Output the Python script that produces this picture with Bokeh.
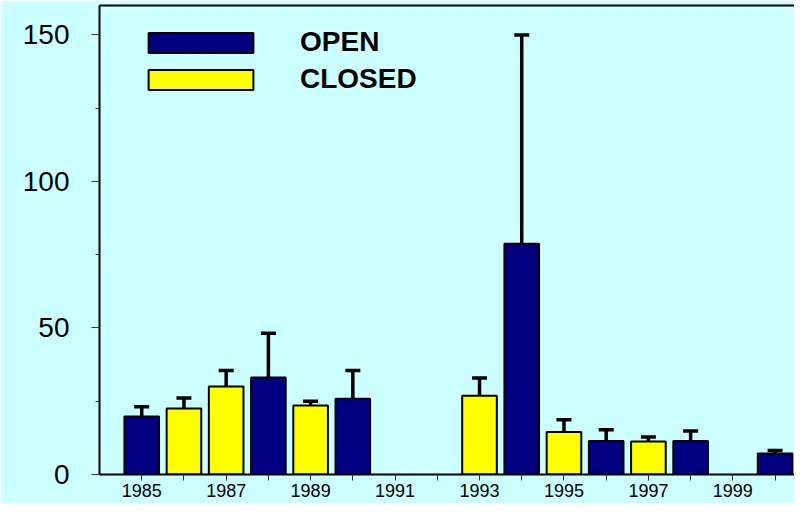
from bokeh.plotting import figure
from bokeh.models import (ColumnDataSource, Whisker, TeeHead, FixedTicker,
                          SingleIntervalTicker, Legend, LegendItem, LinearAxis)
from bokeh.embed import file_html
from bokeh.resources import INLINE

# ---- data ----
years = [1985, 1986, 1987, 1988, 1989, 1990, 1993, 1994, 1995, 1996, 1997, 1998, 2000]
season = ["OPEN", "CLOSED", "CLOSED", "OPEN", "CLOSED", "OPEN", "CLOSED",
          "OPEN", "CLOSED", "OPEN", "CLOSED", "OPEN", "OPEN"]
means = [19.8, 22.5, 30.0, 33.1, 23.5, 25.8, 26.9, 78.7, 14.5, 11.4, 11.3, 11.4, 7.2]
errors = [3.3, 3.6, 5.5, 15.1, 1.5, 9.7, 6.0, 71.2, 4.2, 3.9, 1.5, 3.4, 1.0]
label_years = [1985, 1987, 1989, 1991, 1993, 1995, 1997, 1999]
other_years = [1986, 1988, 1990, 1992, 1994, 1996, 1998, 2000]
legend_labels = ["OPEN", "CLOSED"]
series_colors = {"OPEN": "#000080", "CLOSED": "#FFFF00"}

BG = "#CCFFFF"

p = figure(width=794, height=503, output_backend="svg", toolbar_location=None,
           x_range=(1984.0, 2000.46), y_range=(0, 160.0),
           min_border_left=99, min_border_right=0, min_border_top=5,
           min_border_bottom=29)
p.background_fill_color = BG
p.border_fill_color = BG
p.outline_line_color = None
p.xgrid.visible = False
p.ygrid.visible = False

renderers = {}
for lab in legend_labels:
    idx = [i for i, s in enumerate(season) if s == lab]
    src = ColumnDataSource(dict(x=[years[i] for i in idx],
                                top=[means[i] for i in idx]))
    renderers[lab] = p.vbar(x="x", top="top", bottom=0, width=0.82, source=src,
                            fill_color=series_colors[lab], line_color="black",
                            line_width=2)

err_src = ColumnDataSource(dict(x=years, lower=means,
                                upper=[m + e for m, e in zip(means, errors)]))
wh = Whisker(base="x", lower="lower", upper="upper", source=err_src,
             dimension="height", line_color="black", line_width=3.5,
             lower_head=None,
             upper_head=TeeHead(size=15, line_color="black", line_width=3.5))
p.add_layout(wh)

# y axis
ya = p.left[0]
ya.ticker = SingleIntervalTicker(interval=50, num_minor_ticks=2)
ya.axis_line_width = 2
ya.axis_line_color = "black"
ya.major_tick_in = 0
ya.major_tick_out = 8
ya.minor_tick_in = 0
ya.minor_tick_out = 4
ya.major_tick_line_color = "#333333"
ya.minor_tick_line_color = "#333333"
ya.major_label_standoff = 22
ya.major_label_text_font = "Liberation Sans"
ya.major_label_text_font_size = "28px"
ya.major_label_text_color = "black"

# x axis (bottom)
xa = p.below[0]
xa.ticker = FixedTicker(ticks=label_years, minor_ticks=other_years)
xa.axis_line_width = 2
xa.axis_line_color = "black"
xa.major_tick_in = 0
xa.major_tick_out = 6
xa.minor_tick_in = 0
xa.minor_tick_out = 6
xa.major_tick_line_color = "#333333"
xa.minor_tick_line_color = "#333333"
xa.major_label_standoff = 3
xa.major_label_text_font = "Liberation Sans"
xa.major_label_text_font_size = "18px"
xa.major_label_text_color = "black"

# top border drawn as a bare axis line
top_axis = LinearAxis(ticker=FixedTicker(ticks=[]), axis_line_color="black",
                      axis_line_width=2, major_tick_out=0, major_tick_in=0,
                      minor_tick_out=0, minor_tick_in=0,
                      major_label_standoff=0,
                      major_label_text_font_size="0px")
p.add_layout(top_axis, "above")

legend = Legend(items=[LegendItem(label=lab, renderers=[renderers[lab]])
                       for lab in legend_labels],
                location=(36, 379), orientation="vertical",
                glyph_width=131, glyph_height=25, label_standoff=34,
                spacing=5, padding=0, margin=0,
                border_line_color=None, background_fill_alpha=0,
                label_text_font="Liberation Sans",
                label_text_font_style="bold",
                label_text_font_size="28px", label_text_color="black")
p.add_layout(legend)

html = file_html(p, INLINE)
html = html.replace("<body>", '<body style="background-color:#ccffff;">', 1)
open("out.html", "w").write(html)
